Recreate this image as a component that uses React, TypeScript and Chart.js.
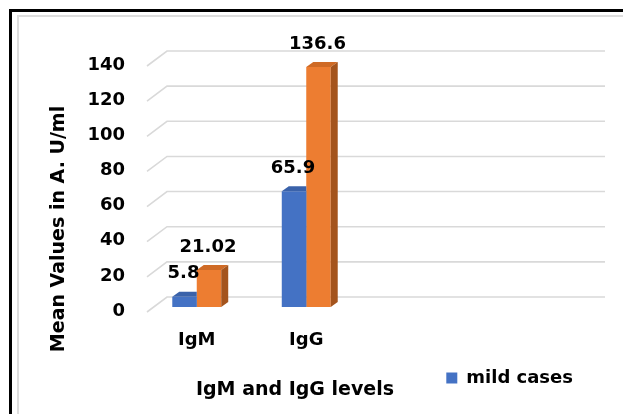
import React, { useEffect, useRef } from "react";
import { Chart, registerables } from "chart.js";

Chart.register(...registerables);

// ---- data ----
const categories = ["IgM", "IgG", "", ""];
const mildCases = [5.8, 65.9, null, null];
const severeCases = [21.02, 136.6, null, null];
const mildLabels = ["5.8", "65.9"];
const severeLabels = ["21.02", "136.6"];
const yTicks = [0, 20, 40, 60, 80, 100, 120, 140];
const seriesNames = ["mild cases", "severe cases"];
const xTitle = "IgM and IgG levels";
const yTitle = "Mean Values in A. U/ml";

// ---- styles ----
const W = 623;
const H = 406;
const FONT_FAMILY = "'DejaVu Sans', Verdana, sans-serif";
const FONT = `bold 18px ${FONT_FAMILY}`;
const TITLE_FONT = `bold 19px ${FONT_FAMILY}`;
const BLUE = "#4472C4";
const ORANGE = "#ED7D31";
const TOP_COLORS = ["#3A62AA", "#CF6A25"];
const SIDE_COLORS = ["#2F528F", "#A4541D"];
const PAD_BOTTOM = 17;
const PLOT_BOTTOM = 299;

const threeD = {
  id: "threeD",
  beforeDatasetsDraw(chart: any) {
    const { ctx, chartArea, scales } = chart;
    const y = scales.y;
    ctx.save();
    ctx.strokeStyle = "#D9D9D9";
    ctx.lineWidth = 1.6;
    for (const v of yTicks) {
      const p = y.getPixelForValue(v);
      ctx.beginPath();
      ctx.moveTo(chartArea.left + 5, p + 5);
      ctx.lineTo(chartArea.left + 25, p - 10);
      ctx.lineTo(chartArea.right + 25, p - 10);
      ctx.stroke();
    }
    ctx.restore();
  },
  afterDatasetsDraw(chart: any) {
    const { ctx } = chart;
    const dx = 7;
    const dy = 5;
    const n = chart.data.datasets.length;
    for (let di = 0; di < n; di++) {
      const meta = chart.getDatasetMeta(di);
      meta.data.forEach((bar: any, i: number) => {
        const val = chart.data.datasets[di].data[i];
        if (val === null || val === undefined) return;
        const { x, y, base, width } = bar.getProps(["x", "y", "base", "width"], true);
        const l = x - width / 2;
        const r = x + width / 2;
        ctx.save();
        if (di < n - 1) {
          ctx.beginPath();
          ctx.rect(0, 0, r, chart.height);
          ctx.clip();
        }
        // top face
        ctx.fillStyle = TOP_COLORS[di];
        ctx.beginPath();
        ctx.moveTo(l, y);
        ctx.lineTo(l + dx, y - dy);
        ctx.lineTo(r + dx, y - dy);
        ctx.lineTo(r, y);
        ctx.closePath();
        ctx.fill();
        // side face
        ctx.fillStyle = SIDE_COLORS[di];
        ctx.beginPath();
        ctx.moveTo(r, y);
        ctx.lineTo(r + dx, y - dy);
        ctx.lineTo(r + dx, base - dy);
        ctx.lineTo(r, base);
        ctx.closePath();
        ctx.fill();
        ctx.restore();
      });
    }
    // value labels
    ctx.save();
    ctx.font = FONT;
    ctx.fillStyle = "#000";
    ctx.textAlign = "center";
    ctx.textBaseline = "middle";
    const labelSets = [mildLabels, severeLabels];
    for (let di = 0; di < n; di++) {
      const meta = chart.getDatasetMeta(di);
      meta.data.forEach((bar: any, i: number) => {
        const txt = labelSets[di][i];
        if (!txt) return;
        const { x, y } = bar.getProps(["x", "y"], true);
        ctx.fillText(txt, x - 1, y - 23);
      });
    }
    ctx.restore();
  },
  afterDraw(chart: any) {
    const { ctx } = chart;
    ctx.save();
    ctx.font = TITLE_FONT;
    ctx.fillStyle = "#000";
    ctx.textAlign = "center";
    ctx.textBaseline = "middle";
    ctx.fillText(xTitle, 287, 382);
    ctx.translate(51.5, 221);
    ctx.rotate(-Math.PI / 2);
    ctx.fillText(yTitle, 0, 0);
    ctx.restore();
  },
};

export default function App() {
  const ref = useRef<HTMLCanvasElement | null>(null);

  useEffect(() => {
    if (!ref.current) return;
    const chart = new Chart(ref.current, {
      type: "bar",
      data: {
        labels: categories,
        datasets: [
          {
            label: seriesNames[0],
            data: mildCases,
            backgroundColor: BLUE,
            borderWidth: 0,
            categoryPercentage: 0.447,
            barPercentage: 1,
          },
          {
            label: seriesNames[1],
            data: severeCases,
            backgroundColor: ORANGE,
            borderWidth: 0,
            categoryPercentage: 0.447,
            barPercentage: 1,
          },
        ],
      },
      options: {
        responsive: false,
        animation: false,
        devicePixelRatio: 1,
        layout: { padding: { top: 53, right: 51, bottom: PAD_BOTTOM, left: 0 } },
        plugins: {
          tooltip: { enabled: false },
          legend: {
            position: "bottom",
            align: "end",
            labels: {
              boxWidth: 11,
              boxHeight: 11,
              padding: 7,
              color: "#000",
              font: { family: FONT_FAMILY, size: 18, weight: "bold" },
              filter: (item: any) => item.datasetIndex === 0,
            },
          },
        },
        scales: {
          x: {
            grid: { display: false, drawTicks: false },
            border: { display: false },
            ticks: {
              color: "#000",
              padding: 23,
              font: { family: FONT_FAMILY, size: 18, weight: "bold" },
            },
            afterFit: (s: any) => {
              const lg = s.chart.legend;
              const lh = lg && lg.height ? lg.height : 35;
              s.height = H - PAD_BOTTOM - lh - PLOT_BOTTOM;
            },
          },
          y: {
            min: 0,
            max: 140,
            grid: { display: false, drawTicks: false },
            border: { display: false },
            ticks: {
              stepSize: 20,
              color: "#000",
              padding: 17,
              labelOffset: 4,
              font: { family: FONT_FAMILY, size: 18, weight: "bold" },
            },
            afterFit: (s: any) => {
              s.width = 134;
            },
          },
        },
      },
      plugins: [threeD],
    });
    return () => chart.destroy();
  }, []);

  return (
    <div style={{ position: "relative", width: W, height: H, overflow: "hidden", background: "#fff" }}>
      <canvas ref={ref} width={W} height={H} style={{ position: "absolute", left: 0, top: 0, width: W, height: H }} />
      <div
        style={{
          position: "absolute",
          left: 1,
          top: 1,
          width: 1000,
          height: 1000,
          borderLeft: "3px solid #000",
          borderTop: "3px solid #000",
          pointerEvents: "none",
        }}
      />
      <div
        style={{
          position: "absolute",
          left: 9,
          top: 7,
          width: 1000,
          height: 1000,
          borderLeft: "2.5px solid #DDDDDD",
          borderTop: "2.5px solid #DDDDDD",
          pointerEvents: "none",
        }}
      />
    </div>
  );
}
